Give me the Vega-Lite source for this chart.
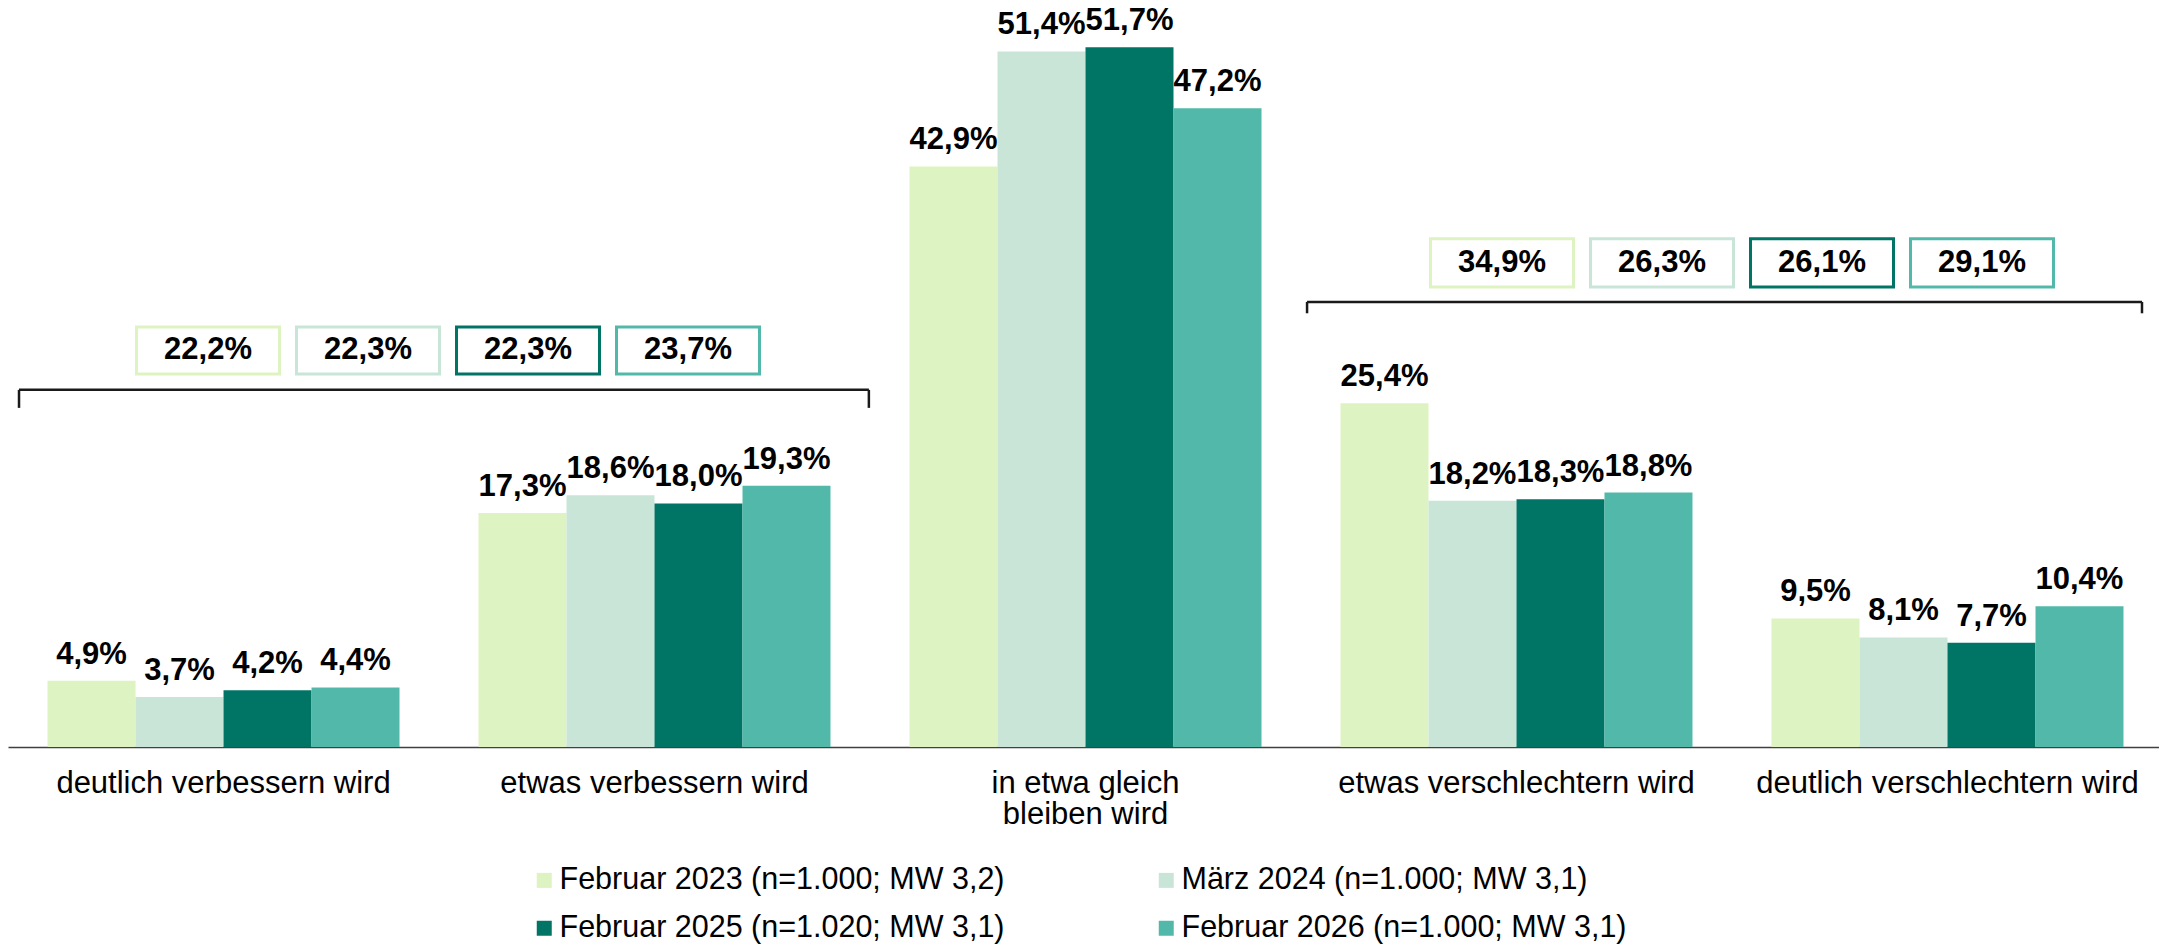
{
  "$schema": "https://vega.github.io/schema/vega-lite/v6.json",
  "width": 2155,
  "height": 747,
  "autosize": {"type": "none"},
  "padding": {"left": 8, "top": 0, "right": 0, "bottom": 197},
  "config": {
    "view": {"stroke": null},
    "font": "Liberation Sans",
    "locale": {"number": {"decimal": ",", "thousands": ".", "grouping": [3], "currency": ["", "%"]}}
  },
  "datasets": {
    "werte": [
      {"kategorie": "deutlich verbessern wird", "welle": "Februar 2023 (n=1.000; MW 3,2)", "wert": 4.9},
      {"kategorie": "deutlich verbessern wird", "welle": "März 2024 (n=1.000; MW 3,1)", "wert": 3.7},
      {"kategorie": "deutlich verbessern wird", "welle": "Februar 2025 (n=1.020; MW 3,1)", "wert": 4.2},
      {"kategorie": "deutlich verbessern wird", "welle": "Februar 2026 (n=1.000; MW 3,1)", "wert": 4.4},
      {"kategorie": "etwas verbessern wird", "welle": "Februar 2023 (n=1.000; MW 3,2)", "wert": 17.3},
      {"kategorie": "etwas verbessern wird", "welle": "März 2024 (n=1.000; MW 3,1)", "wert": 18.6},
      {"kategorie": "etwas verbessern wird", "welle": "Februar 2025 (n=1.020; MW 3,1)", "wert": 18.0},
      {"kategorie": "etwas verbessern wird", "welle": "Februar 2026 (n=1.000; MW 3,1)", "wert": 19.3},
      {"kategorie": "in etwa gleich bleiben wird", "welle": "Februar 2023 (n=1.000; MW 3,2)", "wert": 42.9},
      {"kategorie": "in etwa gleich bleiben wird", "welle": "März 2024 (n=1.000; MW 3,1)", "wert": 51.4},
      {"kategorie": "in etwa gleich bleiben wird", "welle": "Februar 2025 (n=1.020; MW 3,1)", "wert": 51.7},
      {"kategorie": "in etwa gleich bleiben wird", "welle": "Februar 2026 (n=1.000; MW 3,1)", "wert": 47.2},
      {"kategorie": "etwas verschlechtern wird", "welle": "Februar 2023 (n=1.000; MW 3,2)", "wert": 25.4},
      {"kategorie": "etwas verschlechtern wird", "welle": "März 2024 (n=1.000; MW 3,1)", "wert": 18.2},
      {"kategorie": "etwas verschlechtern wird", "welle": "Februar 2025 (n=1.020; MW 3,1)", "wert": 18.3},
      {"kategorie": "etwas verschlechtern wird", "welle": "Februar 2026 (n=1.000; MW 3,1)", "wert": 18.8},
      {"kategorie": "deutlich verschlechtern wird", "welle": "Februar 2023 (n=1.000; MW 3,2)", "wert": 9.5},
      {"kategorie": "deutlich verschlechtern wird", "welle": "März 2024 (n=1.000; MW 3,1)", "wert": 8.1},
      {"kategorie": "deutlich verschlechtern wird", "welle": "Februar 2025 (n=1.020; MW 3,1)", "wert": 7.7},
      {"kategorie": "deutlich verschlechtern wird", "welle": "Februar 2026 (n=1.000; MW 3,1)", "wert": 10.4}
    ],
    "summen": [
      {"seite": "verbessern", "welle": "Februar 2023 (n=1.000; MW 3,2)", "wert": 22.2},
      {"seite": "verbessern", "welle": "März 2024 (n=1.000; MW 3,1)", "wert": 22.3},
      {"seite": "verbessern", "welle": "Februar 2025 (n=1.020; MW 3,1)", "wert": 22.3},
      {"seite": "verbessern", "welle": "Februar 2026 (n=1.000; MW 3,1)", "wert": 23.7},
      {"seite": "verschlechtern", "welle": "Februar 2023 (n=1.000; MW 3,2)", "wert": 34.9},
      {"seite": "verschlechtern", "welle": "März 2024 (n=1.000; MW 3,1)", "wert": 26.3},
      {"seite": "verschlechtern", "welle": "Februar 2025 (n=1.020; MW 3,1)", "wert": 26.1},
      {"seite": "verschlechtern", "welle": "Februar 2026 (n=1.000; MW 3,1)", "wert": 29.1}
    ]
  },
  "layer": [
    {
      "data": {"name": "werte"},
      "encoding": {
        "x": {
          "field": "kategorie",
          "type": "nominal",
          "sort": ["deutlich verbessern wird", "etwas verbessern wird", "in etwa gleich bleiben wird", "etwas verschlechtern wird", "deutlich verschlechtern wird"],
          "scale": {"paddingInner": 0.1833, "paddingOuter": 0.0917},
          "axis": {
            "title": null,
            "domainColor": "#404040",
            "domainWidth": 1.5,
            "ticks": false,
            "grid": false,
            "labelFont": "Liberation Sans",
            "labelFontSize": 31,
            "labelColor": "#000000",
            "labelPadding": 21,
            "labelLimit": 0,
            "labelAngle": 0,
            "labelLineHeight": 31,
            "labelExpr": "datum.value == 'in etwa gleich bleiben wird' ? ['in etwa gleich', 'bleiben wird'] : datum.value"
          }
        }
      },
      "layer": [
        {
          "mark": {"type": "bar"},
          "encoding": {
            "xOffset": {
              "field": "welle",
              "type": "nominal",
              "sort": ["Februar 2023 (n=1.000; MW 3,2)", "März 2024 (n=1.000; MW 3,1)", "Februar 2025 (n=1.020; MW 3,1)", "Februar 2026 (n=1.000; MW 3,1)"],
              "scale": {"paddingInner": 0, "paddingOuter": 0}
            },
            "y": {"field": "wert", "type": "quantitative", "scale": {"domain": [0, 55.2]}, "axis": null},
            "color": {
              "field": "welle",
              "type": "nominal",
              "sort": ["Februar 2023 (n=1.000; MW 3,2)", "März 2024 (n=1.000; MW 3,1)", "Februar 2025 (n=1.020; MW 3,1)", "Februar 2026 (n=1.000; MW 3,1)"],
              "scale": {
                "domain": ["Februar 2023 (n=1.000; MW 3,2)", "März 2024 (n=1.000; MW 3,1)", "Februar 2025 (n=1.020; MW 3,1)", "Februar 2026 (n=1.000; MW 3,1)"],
                "range": ["#DDF3C1", "#C8E5D8", "#007566", "#52B9AA"]
              },
              "legend": {
                "title": null,
                "orient": "none",
                "direction": "horizontal",
                "legendX": 521,
                "legendY": 865,
                "columns": 2,
                "columnPadding": 146,
                "rowPadding": 17,
                "padding": 0,
                "symbolType": "square",
                "symbolSize": 225,
                "symbolStrokeWidth": 0,
                "labelFont": "Liberation Sans",
                "labelFontSize": 30.5,
                "labelColor": "#000000",
                "labelOffset": 0,
                "labelLimit": 0
              }
            }
          }
        },
        {
          "mark": {"type": "text", "fontWeight": "bold", "fontSize": 31, "font": "Liberation Sans", "baseline": "alphabetic", "dy": -17, "color": "#000000"},
          "encoding": {
            "xOffset": {
              "field": "welle",
              "type": "nominal",
              "sort": ["Februar 2023 (n=1.000; MW 3,2)", "März 2024 (n=1.000; MW 3,1)", "Februar 2025 (n=1.020; MW 3,1)", "Februar 2026 (n=1.000; MW 3,1)"]
            },
            "y": {"field": "wert", "type": "quantitative", "scale": {"domain": [0, 55.2]}, "axis": null},
            "text": {"field": "wert", "type": "quantitative", "format": "$.1f"}
          }
        },
        {
          "data": {"values": [{}]},
          "mark": {"type": "rule", "strokeWidth": 2.5, "color": "#1a1a1a"},
          "encoding": {
            "x": {"datum": "deutlich verbessern wird", "type": "nominal", "bandPosition": -0.081},
            "x2": {"datum": "etwas verbessern wird", "bandPosition": 1.109},
            "y": {"datum": 26.39, "type": "quantitative", "scale": {"domain": [0, 55.2]}}
          }
        },
        {
          "data": {"values": [{}]},
          "mark": {"type": "rule", "strokeWidth": 2.5, "color": "#1a1a1a"},
          "encoding": {
            "x": {"datum": "deutlich verbessern wird", "type": "nominal", "bandPosition": -0.081},
            "y": {"datum": 26.39, "type": "quantitative", "scale": {"domain": [0, 55.2]}},
            "y2": {"datum": 25.06}
          }
        },
        {
          "data": {"values": [{}]},
          "mark": {"type": "rule", "strokeWidth": 2.5, "color": "#1a1a1a"},
          "encoding": {
            "x": {"datum": "etwas verbessern wird", "type": "nominal", "bandPosition": 1.109},
            "y": {"datum": 26.39, "type": "quantitative", "scale": {"domain": [0, 55.2]}},
            "y2": {"datum": 25.06}
          }
        },
        {
          "data": {"values": [{}]},
          "mark": {"type": "rule", "strokeWidth": 2.5, "color": "#1a1a1a"},
          "encoding": {
            "x": {"datum": "etwas verschlechtern wird", "type": "nominal", "bandPosition": -0.095},
            "x2": {"datum": "deutlich verschlechtern wird", "bandPosition": 1.0526},
            "y": {"datum": 32.89, "type": "quantitative", "scale": {"domain": [0, 55.2]}}
          }
        },
        {
          "data": {"values": [{}]},
          "mark": {"type": "rule", "strokeWidth": 2.5, "color": "#1a1a1a"},
          "encoding": {
            "x": {"datum": "etwas verschlechtern wird", "type": "nominal", "bandPosition": -0.095},
            "y": {"datum": 32.89, "type": "quantitative", "scale": {"domain": [0, 55.2]}},
            "y2": {"datum": 32.05}
          }
        },
        {
          "data": {"values": [{}]},
          "mark": {"type": "rule", "strokeWidth": 2.5, "color": "#1a1a1a"},
          "encoding": {
            "x": {"datum": "deutlich verschlechtern wird", "type": "nominal", "bandPosition": 1.0526},
            "y": {"datum": 32.89, "type": "quantitative", "scale": {"domain": [0, 55.2]}},
            "y2": {"datum": 32.05}
          }
        }
      ]
    },
    {
      "data": {"name": "summen"},
      "transform": [{"filter": "datum.seite == 'verbessern'"}],
      "encoding": {
        "x": {
          "field": "welle",
          "type": "nominal",
          "sort": ["Februar 2023 (n=1.000; MW 3,2)", "März 2024 (n=1.000; MW 3,1)", "Februar 2025 (n=1.020; MW 3,1)", "Februar 2026 (n=1.000; MW 3,1)"],
          "axis": null,
          "scale": {"paddingInner": 0.10625, "paddingOuter": 0, "range": [128.5, 751.5]}
        }
      },
      "layer": [
        {
          "mark": {"type": "bar", "fill": "#ffffff", "strokeWidth": 3},
          "encoding": {
            "y": {"datum": 31.04, "type": "quantitative", "scale": {"domain": [0, 55.2]}},
            "y2": {"datum": 27.57},
            "stroke": {
              "field": "welle",
              "type": "nominal",
              "scale": {
                "domain": ["Februar 2023 (n=1.000; MW 3,2)", "März 2024 (n=1.000; MW 3,1)", "Februar 2025 (n=1.020; MW 3,1)", "Februar 2026 (n=1.000; MW 3,1)"],
                "range": ["#DDF3C1", "#C8E5D8", "#007566", "#52B9AA"]
              },
              "legend": null
            }
          }
        },
        {
          "mark": {"type": "text", "fontWeight": "bold", "fontSize": 31, "font": "Liberation Sans", "baseline": "middle", "color": "#000000"},
          "encoding": {
            "y": {"datum": 29.3, "type": "quantitative", "scale": {"domain": [0, 55.2]}},
            "text": {"field": "wert", "type": "quantitative", "format": "$.1f"}
          }
        }
      ]
    },
    {
      "data": {"name": "summen"},
      "transform": [{"filter": "datum.seite == 'verschlechtern'"}],
      "encoding": {
        "x": {
          "field": "welle",
          "type": "nominal",
          "sort": ["Februar 2023 (n=1.000; MW 3,2)", "März 2024 (n=1.000; MW 3,1)", "Februar 2025 (n=1.020; MW 3,1)", "Februar 2026 (n=1.000; MW 3,1)"],
          "axis": null,
          "scale": {"paddingInner": 0.10625, "paddingOuter": 0, "range": [1422.5, 2045.5]}
        }
      },
      "layer": [
        {
          "mark": {"type": "bar", "fill": "#ffffff", "strokeWidth": 3},
          "encoding": {
            "y": {"datum": 37.55, "type": "quantitative", "scale": {"domain": [0, 55.2]}},
            "y2": {"datum": 34.0},
            "stroke": {
              "field": "welle",
              "type": "nominal",
              "scale": {
                "domain": ["Februar 2023 (n=1.000; MW 3,2)", "März 2024 (n=1.000; MW 3,1)", "Februar 2025 (n=1.020; MW 3,1)", "Februar 2026 (n=1.000; MW 3,1)"],
                "range": ["#DDF3C1", "#C8E5D8", "#007566", "#52B9AA"]
              },
              "legend": null
            }
          }
        },
        {
          "mark": {"type": "text", "fontWeight": "bold", "fontSize": 31, "font": "Liberation Sans", "baseline": "middle", "color": "#000000"},
          "encoding": {
            "y": {"datum": 35.77, "type": "quantitative", "scale": {"domain": [0, 55.2]}},
            "text": {"field": "wert", "type": "quantitative", "format": "$.1f"}
          }
        }
      ]
    }
  ],
  "resolve": {"scale": {"x": "independent"}}
}
